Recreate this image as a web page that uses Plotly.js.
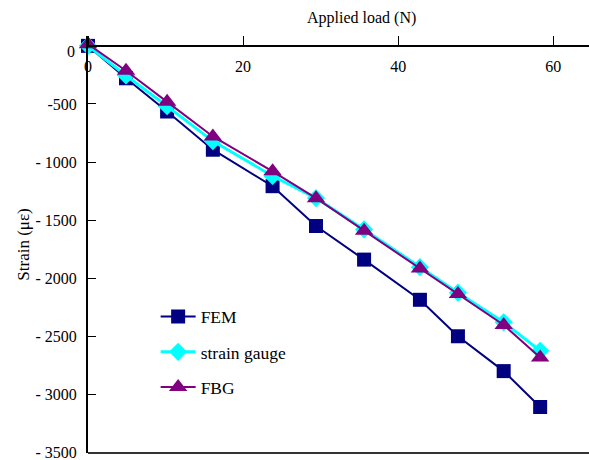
<!DOCTYPE html>
<html>
<head>
<meta charset="utf-8">
<script src="https://cdn.plot.ly/plotly-3.0.1.min.js"></script>
<style>html,body{margin:0;padding:0;background:#fff;}#chart{width:589px;height:460px;}</style>
</head>
<body>
<div id="chart"></div>
<script>
const load = [0, 4.9, 10.2, 16.1, 23.8, 29.4, 35.6, 42.8, 47.7, 53.6, 58.3];
const fem = [0, -279, -565, -894, -1208, -1551, -1840, -2186, -2500, -2800, -3109];
const strainGauge = [0, -255, -520, -820, -1120, -1310, -1580, -1905, -2125, -2380, -2625];
const fbg = [15, -214, -482, -780, -1080, -1311, -1591, -1917, -2137, -2403, -2683];
const seriesNames = ['FEM', 'strain gauge', 'FBG'];
const xTicks = [0, 20, 40, 60];
const yTicks = [0, -500, -1000, -1500, -2000, -2500, -3000, -3500];
const yTickText = ['', '-500', '- 1000', '- 1500', '- 2000', '- 2500', '- 3000', '- 3500'];
const yZeroLabel = '0';

const FONT = '"Liberation Serif", "Times New Roman", serif';
const traces = [
  {x: load, y: fem, name: seriesNames[0], legendgroup: 'a', mode: 'lines+markers',
   line: {color: '#000080', width: 2}, marker: {symbol: 'square', size: 14, color: '#000080'}},
  {x: load, y: strainGauge, name: seriesNames[1], legendgroup: 'b', mode: 'lines+markers',
   line: {color: '#00FFFF', width: 3}, marker: {symbol: 'diamond', size: 14, color: '#00FFFF'}},
  {x: load, y: fbg, name: seriesNames[2], legendgroup: 'c', mode: 'lines+markers',
   line: {color: '#800080', width: 2}, marker: {symbol: 'triangle-up', size: 16, color: '#800080'}},
  {x: xTicks, y: xTicks.map(() => null), xaxis: 'x2', yaxis: 'y', showlegend: false,
   mode: 'markers', hoverinfo: 'skip'}
];
traces.slice(0, 3).forEach(t => t.cliponaxis = false);

const layout = {
  width: 589, height: 460,
  margin: {l: 88, r: 0, t: 36, b: 7},
  paper_bgcolor: '#fff', plot_bgcolor: '#fff',
  font: {family: FONT, size: 16, color: '#000'},
  showlegend: true,
  legend: {x: 0.135, y: 0.37, xanchor: 'left', yanchor: 'top', bgcolor: 'rgba(0,0,0,0)',
           itemwidth: 35,
           font: {family: FONT, size: 17.5, color: '#000'}, tracegroupgap: 9.5, traceorder: 'grouped'},
  xaxis: {range: [0, 64.6], side: 'top', anchor: 'free', position: 0.9763,
          tickvals: xTicks, ticks: 'outside', ticklen: 9, tickcolor: '#000', tickwidth: 1,
          showticklabels: false,
          showline: true, linecolor: '#000', linewidth: 2, showgrid: false, zeroline: false},
  xaxis2: {range: [0, 64.6], overlaying: 'x', side: 'bottom', anchor: 'free', position: 0.9763,
           tickvals: xTicks, ticks: '', showline: false, showgrid: false, zeroline: false,
           ticklabelstandoff: 9,
           tickfont: {family: FONT, size: 16, color: '#000'}},
  yaxis: {range: [-3505, 85], tickvals: yTicks, ticktext: yTickText, ticks: 'inside', ticklen: 8,
          tickcolor: '#000', ticklabelstandoff: 6, ticklabeloverflow: 'allow',
          showline: true, linecolor: '#000', linewidth: 2, showgrid: false, zeroline: false,
          tickfont: {family: FONT, size: 16, color: '#000'},
          title: {text: 'Strain (με)', font: {family: FONT, size: 17, color: '#000'}, standoff: 2}},
  shapes: [{type: 'line', xref: 'paper', yref: 'paper', x0: 0, x1: 1, y0: 0, y1: 0,
            line: {color: '#333', width: 2}}],
  annotations: [
    {text: 'Applied load (N)', xref: 'paper', yref: 'paper', x: (361 - 88) / 501, y: 1,
     yshift: 18, xanchor: 'center', yanchor: 'middle', showarrow: false,
     font: {family: FONT, size: 16, color: '#000'}},
    {text: yZeroLabel, xref: 'paper', yref: 'y', x: 0, y: yTicks[0], xshift: -11, yshift: -6,
     xanchor: 'right', yanchor: 'middle', showarrow: false,
     font: {family: FONT, size: 16, color: '#000'}}
  ]
};
Plotly.newPlot('chart', traces, layout, {displayModeBar: false, staticPlot: true});
</script>
</body>
</html>
